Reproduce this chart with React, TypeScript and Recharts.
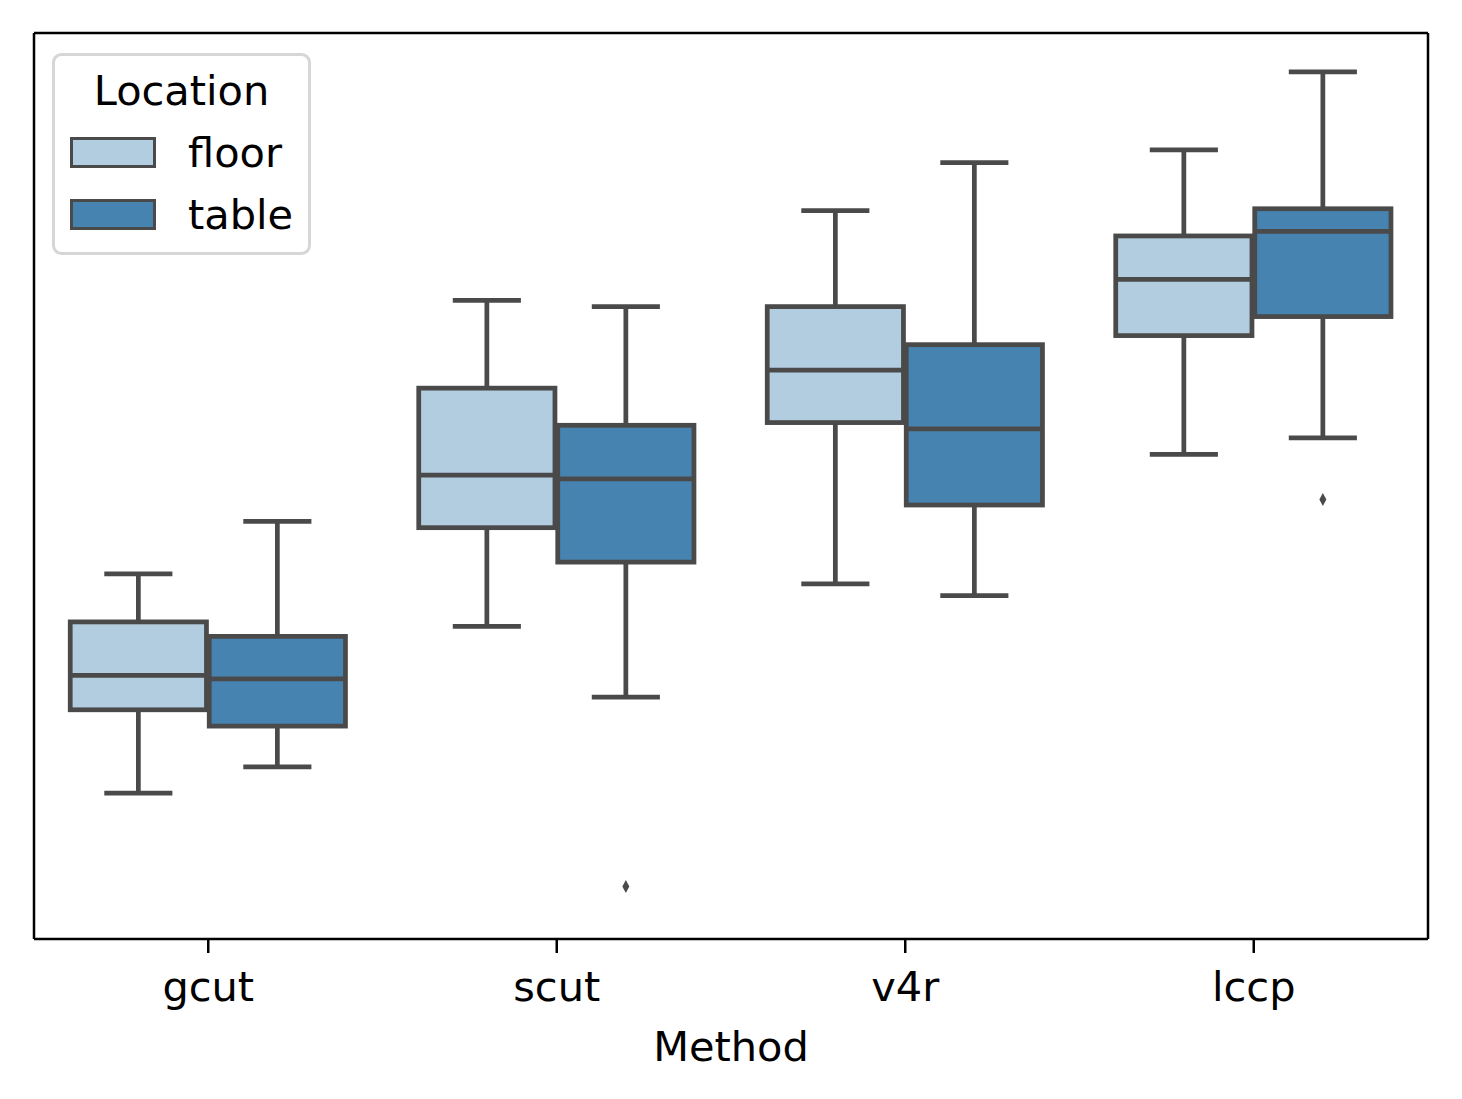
import React from "react";
import { ComposedChart, Bar, XAxis, YAxis, Legend } from "recharts";

const FONT = "'DejaVu Sans', sans-serif";
const FONT_SIZE = 41.5;
const EDGE = "#4a4a4a";

const methods = ["gcut", "scut", "v4r", "lccp"];
const locations = ["floor", "table"];
const locationColors = ["#b3cde0", "#4783b1"];

// each row: [lower whisker, q1, median, q3, upper whisker]
const floorStats = [
  [16.1, 25.3, 29.1, 35.0, 40.3],
  [34.5, 45.4, 51.2, 60.8, 70.5],
  [39.2, 57.0, 62.8, 69.8, 80.4],
  [53.5, 66.6, 72.8, 77.6, 87.1],
];
const tableStats = [
  [19.0, 23.5, 28.7, 33.4, 46.1],
  [26.7, 41.6, 50.8, 56.7, 69.8],
  [37.9, 47.9, 56.3, 65.6, 85.7],
  [55.3, 68.7, 78.1, 80.6, 95.7],
];
const floorOutliers: number[][] = [[], [], [], []];
const tableOutliers: number[][] = [[], [5.8], [], [48.5]];

const rows = methods.map((m, i) => ({
  method: m,
  floor: { stats: floorStats[i], fliers: floorOutliers[i] },
  table: { stats: tableStats[i], fliers: tableOutliers[i] },
}));

// bar geometry spans the whiskers; the rest is placed along the same scale
const makeBox = (key: string) => (props: any) => {
  const { x, y, width, height, payload, fill } = props;
  const [lo, q1, med, q3, hi] = payload[key].stats;
  const fliers: number[] = payload[key].fliers;
  const top = Math.min(y, y + height);
  const h = Math.abs(height);
  const py = (v: number) => top + (h * (hi - v)) / (hi - lo);
  const bw = width * 0.98;
  const cx = x + width / 2;
  const left = cx - bw / 2;
  const cap = bw / 4;
  const sw = 4.75;
  return (
    <g>
      <line x1={cx} x2={cx} y1={py(hi)} y2={py(q3)} stroke={EDGE} strokeWidth={sw} />
      <line x1={cx} x2={cx} y1={py(q1)} y2={py(lo)} stroke={EDGE} strokeWidth={sw} />
      <line x1={cx - cap} x2={cx + cap} y1={py(hi)} y2={py(hi)} stroke={EDGE} strokeWidth={sw} />
      <line x1={cx - cap} x2={cx + cap} y1={py(lo)} y2={py(lo)} stroke={EDGE} strokeWidth={sw} />
      <rect x={left} y={py(q3)} width={bw} height={py(q1) - py(q3)} fill={fill} stroke={EDGE} strokeWidth={sw} />
      <line x1={left} x2={left + bw} y1={py(med)} y2={py(med)} stroke={EDGE} strokeWidth={sw} />
      {fliers.map((f, i) => {
        const fy = py(f);
        return (
          <polygon
            key={i}
            points={`${cx},${fy - 6.5} ${cx + 3.5},${fy} ${cx},${fy + 6.5} ${cx - 3.5},${fy}`}
            fill={EDGE}
          />
        );
      })}
    </g>
  );
};

function MethodTick({ x, y, payload }: any) {
  return (
    <text x={x} y={y + 46} textAnchor="middle" fontSize={FONT_SIZE} fill="#000" fontFamily={FONT}>
      {payload.value}
    </text>
  );
}

function LocationLegend({ payload }: any) {
  const items = payload || [];
  return (
    <svg width={259} height={203} style={{ display: "block" }}>
      <rect x={1.5} y={1.5} width={256} height={199} rx={8} fill="#fff" fillOpacity={0.8} stroke="#d6d6d6" strokeWidth={3} />
      <text x={129.5} y={52} textAnchor="middle" fontSize={FONT_SIZE} fontFamily={FONT} fill="#000">
        Location
      </text>
      {items.map((it: any, i: number) => (
        <g key={it.value}>
          <rect x={19.5} y={85.5 + i * 62} width={83} height={28} fill={it.color} stroke={EDGE} strokeWidth={3} />
          <text x={136} y={114 + i * 62} fontSize={FONT_SIZE} fontFamily={FONT} fill="#000">
            {it.value}
          </text>
        </g>
      ))}
    </svg>
  );
}

export default function App() {
  const axisStroke = { stroke: "#000", strokeWidth: 2.5 };
  return (
    <div style={{ position: "absolute", left: 0, top: 0, background: "#fff" }}>
      <ComposedChart
        width={1462}
        height={1099}
        data={rows}
        margin={{ top: 32, right: 33, bottom: 0, left: 33 }}
        barCategoryGap="10%"
        barGap={0}
      >
        <XAxis
          dataKey="method"
          height={160}
          interval={0}
          tickSize={14}
          tick={<MethodTick />}
          tickLine={axisStroke}
          axisLine={axisStroke}
          label={{ value: "Method", position: "insideBottom", offset: 38, fontSize: FONT_SIZE, fill: "#000", fontFamily: FONT }}
        />
        <XAxis xAxisId="top" orientation="top" dataKey="method" height={1} tick={false} tickLine={false} axisLine={axisStroke} />
        <YAxis domain={[0, 100]} width={1} tick={false} tickLine={false} axisLine={axisStroke} />
        <YAxis yAxisId="right" orientation="right" domain={[0, 100]} width={1} tick={false} tickLine={false} axisLine={axisStroke} />
        <Legend
          layout="vertical"
          align="center"
          verticalAlign="middle"
          wrapperStyle={{ left: 52, top: 53, width: 259, height: 203 }}
          content={<LocationLegend />}
        />
        {locations.map((loc, i) => (
          <Bar
            key={loc}
            name={loc}
            dataKey={(d: any) => [d[loc].stats[0], d[loc].stats[4]]}
            fill={locationColors[i]}
            shape={makeBox(loc)}
            isAnimationActive={false}
          />
        ))}
      </ComposedChart>
    </div>
  );
}
